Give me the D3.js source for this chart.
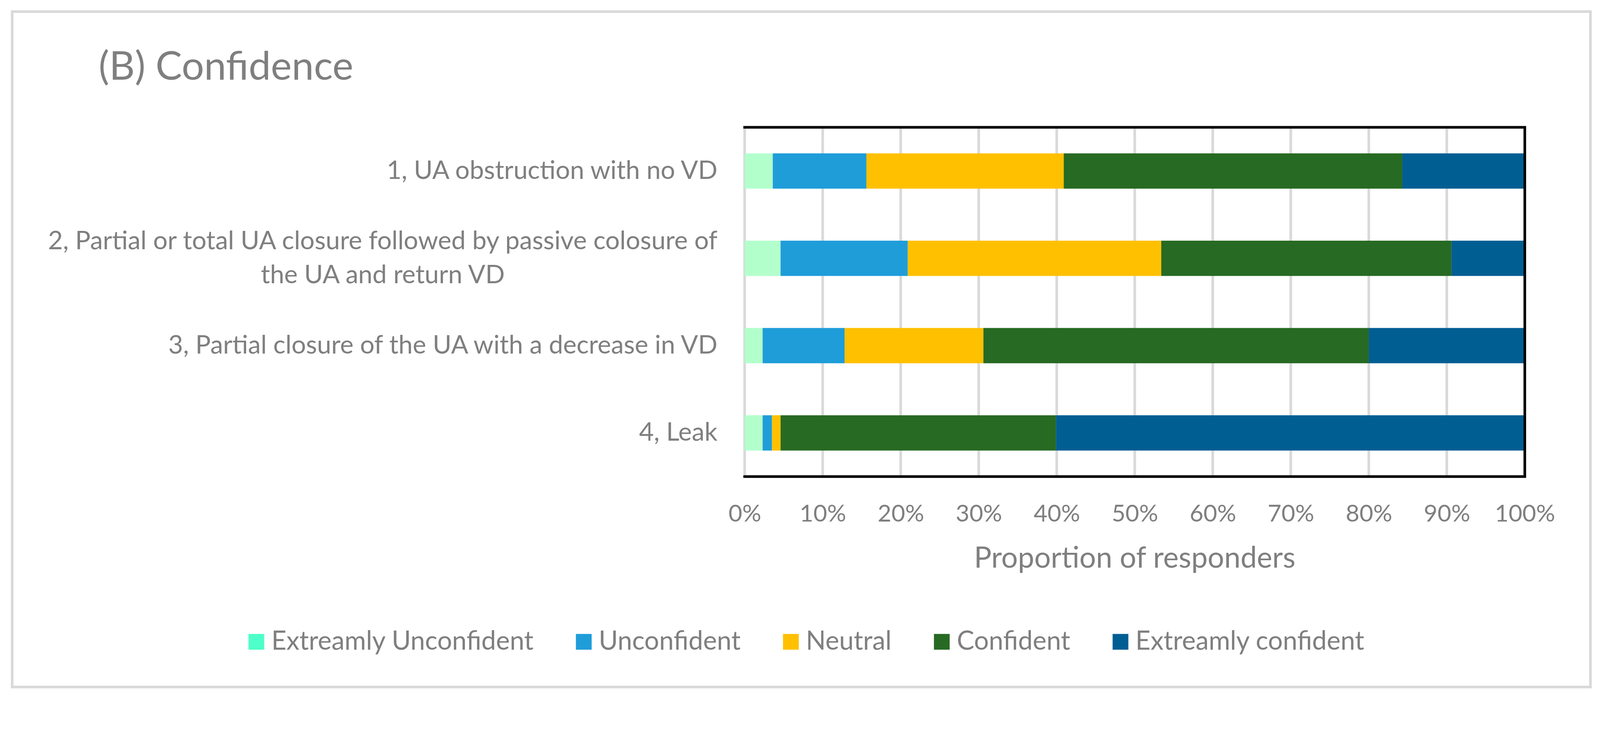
<!DOCTYPE html>
<html>
<head>
<meta charset="utf-8">
<script src="https://cdn.jsdelivr.net/npm/d3@7"></script>
<style>
  html, body { margin: 0; padding: 0; background: #ffffff; overflow: hidden; }
  svg { display: block; width: 100vw; height: 100vh; }
  text { font-family: Lato, "Open Sans", "DejaVu Sans", sans-serif; fill: #7f7f7f; }
</style>
</head>
<body>
<svg id="chart" viewBox="0 0 4266 1866" preserveAspectRatio="xMinYMin meet"></svg>
<script>
// ---------------- DATA ----------------
const categories = [
  "1, UA obstruction with no VD",
  "2, Partial or total UA closure followed by passive colosure of the UA and return VD",
  "3, Partial closure of the UA with a decrease in VD",
  "4, Leak"
];
const seriesNames = ["Extreamly Unconfident", "Unconfident", "Neutral", "Confident", "Extreamly confident"];
const extremelyUnconfident = [3.6, 4.6, 2.3, 2.3];
const unconfident          = [12.0, 16.3, 10.5, 1.2];
const neutral              = [25.3, 32.5, 17.8, 1.1];
const confident            = [43.4, 37.2, 49.4, 35.3];
const extremelyConfident   = [15.7, 9.4, 20.0, 60.1];
const xTicks = [0, 10, 20, 30, 40, 50, 60, 70, 80, 90, 100];
const titleText = "(B) Confidence";
const xAxisTitle = "Proportion of responders";

// ---------------- STYLE ----------------
const barColors    = ["#B3FFCC", "#1F9DD9", "#FFC000", "#276A23", "#015E93"];
const legendColors = ["#4DFFC9", "#1F9DD9", "#FFC000", "#276A23", "#015E93"];
const textColor = "#7f7f7f";

const svg = d3.select("#chart");

// helper: font size so that a sample text reaches a target width
const probe = svg.append("text").attr("visibility", "hidden").attr("font-size", 100);
function fitSize(sample, targetWidth) {
  probe.text(sample);
  const w = probe.node().getComputedTextLength();
  return 100 * targetWidth / w;
}

// outer frame
svg.append("rect")
  .attr("x", 32.5).attr("y", 31)
  .attr("width", 4240.5 - 32.5).attr("height", 1831.5 - 31)
  .attr("fill", "none").attr("stroke", "#d9d9d9").attr("stroke-width", 7);

const plot = { left: 1985.5, right: 4065.5, top: 339.5, bottom: 1270.5 };

const x = d3.scaleLinear().domain([0, 100]).range([plot.left, plot.right]);
const y = d3.scaleBand().domain(categories).range([plot.top, plot.bottom])
  .paddingInner(0.596).paddingOuter(0.298);

// table for stacking
const table = categories.map((c, i) => ({
  category: c,
  [seriesNames[0]]: extremelyUnconfident[i],
  [seriesNames[1]]: unconfident[i],
  [seriesNames[2]]: neutral[i],
  [seriesNames[3]]: confident[i],
  [seriesNames[4]]: extremelyConfident[i]
}));
const stacked = d3.stack().keys(seriesNames)(table);

// gridlines
svg.append("g").selectAll("line")
  .data(xTicks.filter(t => t < 100))
  .join("line")
  .attr("x1", d => x(d)).attr("x2", d => x(d))
  .attr("y1", plot.top).attr("y2", plot.bottom)
  .attr("stroke", "#d9d9d9").attr("stroke-width", 7);

// bars
svg.append("g").selectAll("g")
  .data(stacked)
  .join("g")
  .attr("fill", (d, i) => barColors[i])
  .selectAll("rect")
  .data(d => d)
  .join("rect")
  .attr("x", d => x(d[0]))
  .attr("width", d => x(d[1]) - x(d[0]))
  .attr("y", d => y(d.data.category))
  .attr("height", y.bandwidth());

// plot frame lines (top, bottom, right)
const frame = svg.append("g").attr("stroke", "#000").attr("stroke-width", 7);
frame.append("line").attr("x1", plot.left - 3.5).attr("x2", plot.right + 3.5)
  .attr("y1", plot.top).attr("y2", plot.top);
frame.append("line").attr("x1", plot.left - 3.5).attr("x2", plot.right + 3.5)
  .attr("y1", plot.bottom).attr("y2", plot.bottom);
frame.append("line").attr("x1", plot.right).attr("x2", plot.right)
  .attr("y1", plot.top).attr("y2", plot.bottom);

// x axis tick labels via d3 axis
const tickSize = fitSize("10%", 124);
const xAxis = d3.axisBottom(x).tickValues(xTicks).tickFormat(d => d + "%").tickSize(0).tickPadding(0);
const gx = svg.append("g").attr("transform", `translate(0, ${plot.bottom})`).call(xAxis);
gx.select(".domain").remove();
gx.selectAll("text")
  .attr("y", 1390 - plot.bottom).attr("dy", null)
  .attr("font-size", tickSize).attr("fill", textColor)
  .style("font-family", "Lato, 'Open Sans', sans-serif");

// x axis title
svg.append("text")
  .attr("x", (plot.left + plot.right) / 2).attr("y", 1513)
  .attr("text-anchor", "middle").attr("font-size", fitSize(xAxisTitle, 857))
  .text(xAxisTitle);

// y axis labels (wrapped, centered block, right aligned to axis)
const yLabelSize = fitSize(categories[0], 882);
const labelRight = 1913;
const maxLabelWidth = 1850;
const measure = svg.append("text").attr("font-size", yLabelSize).attr("visibility", "hidden");
function textWidth(s) { measure.text(s); return measure.node().getComputedTextLength(); }
function wrap(s) {
  const words = s.split(" ");
  const lines = [];
  let cur = "";
  words.forEach(w => {
    const t = cur ? cur + " " + w : w;
    if (textWidth(t) > maxLabelWidth && cur) { lines.push(cur); cur = w; }
    else cur = t;
  });
  if (cur) lines.push(cur);
  return lines;
}
const lineH = 90;
categories.forEach(c => {
  const lines = wrap(c);
  const widest = d3.max(lines, textWidth);
  const cx = labelRight - widest / 2;
  const cy = y(c) + y.bandwidth() / 2;
  const firstBase = cy + 21 - (lines.length - 1) * lineH / 2;
  const t = svg.append("text").attr("font-size", yLabelSize).attr("text-anchor", "middle");
  lines.forEach((l, i) => {
    t.append("tspan").attr("x", cx).attr("y", firstBase + i * lineH).text(l);
  });
});
measure.remove();

// title
svg.append("text")
  .attr("x", 263).attr("y", 212)
  .attr("font-size", fitSize(titleText, 679))
  .text(titleText);

// legend
const legendSize = fitSize(seriesNames[0], 699);
const swatch = 42, swGap = 19, itemGap = 113;
const lg = svg.append("g");
const tmp = lg.append("text").attr("font-size", legendSize).attr("visibility", "hidden");
const widths = seriesNames.map(n => { tmp.text(n); return tmp.node().getComputedTextLength(); });
tmp.remove();
const total = d3.sum(widths) + seriesNames.length * (swatch + swGap) + (seriesNames.length - 1) * itemGap;
let lx = 2150 - total / 2;
seriesNames.forEach((n, i) => {
  lg.append("rect").attr("x", lx).attr("y", 1690).attr("width", swatch).attr("height", swatch)
    .attr("fill", legendColors[i]);
  lg.append("text").attr("x", lx + swatch + swGap).attr("y", 1732).attr("font-size", legendSize).text(n);
  lx += swatch + swGap + widths[i] + itemGap;
});
probe.remove();
</script>
</body>
</html>
